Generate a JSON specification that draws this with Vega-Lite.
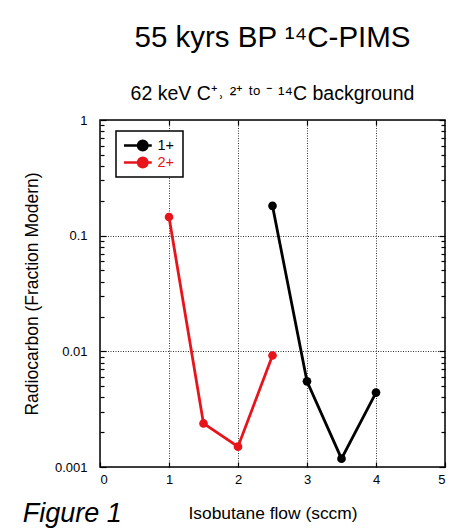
{
  "$schema": "https://vega.github.io/schema/vega-lite/v6.json",
  "padding": {"left": 22, "top": 22, "right": 10, "bottom": 0},
  "background": "white",
  "config": {
    "font": "Liberation Sans",
    "view": {"stroke": "black", "strokeWidth": 1.5},
    "concat": {"spacing": 0}
  },
  "title": {
    "text": "Figure 1",
    "orient": "bottom",
    "anchor": "start",
    "frame": "bounds",
    "font": "Liberation Sans",
    "fontSize": 27,
    "fontStyle": "italic",
    "fontWeight": "normal",
    "color": "black",
    "offset": -21
  },
  "vconcat": [
    {
      "width": 345,
      "height": 347,
      "title": {
        "text": "55 kyrs BP ¹⁴C-PIMS",
        "subtitle": "62 keV C⁺˒ ²⁺ ᵗᵒ ⁻ ¹⁴C background",
        "anchor": "middle",
        "frame": "group",
        "font": "Liberation Sans",
        "fontSize": 29.5,
        "fontWeight": "normal",
        "color": "black",
        "subtitleFont": "Liberation Sans",
        "subtitleFontSize": 19.5,
        "subtitleColor": "black",
        "subtitlePadding": 31,
        "offset": 10
      },
      "data": {
        "values": [
          {"flow": 2.5, "fm": 0.181, "charge": "1+"},
          {"flow": 3.0, "fm": 0.0055, "charge": "1+"},
          {"flow": 3.5, "fm": 0.00118, "charge": "1+"},
          {"flow": 4.0, "fm": 0.0044, "charge": "1+"},
          {"flow": 1.0, "fm": 0.145, "charge": "2+"},
          {"flow": 1.5, "fm": 0.00238, "charge": "2+"},
          {"flow": 2.0, "fm": 0.0015, "charge": "2+"},
          {"flow": 2.5, "fm": 0.0092, "charge": "2+"}
        ]
      },
      "layer": [
        {
          "mark": {"type": "line", "strokeWidth": 2.8},
          "encoding": {
            "x": {
              "field": "flow", "type": "quantitative",
              "scale": {"domain": [0, 5], "nice": false, "zero": false},
              "axis": {
                "title": "Isobutane flow (sccm)",
                "values": [0, 1, 2, 3, 4, 5],
                "format": "d",
                "grid": true, "gridColor": "#333", "gridDash": [1, 1.5], "gridWidth": 1,
                "domain": false,
                "tickSize": -5, "tickColor": "black", "tickWidth": 1.2,
                "labelFontSize": 13, "labelColor": "black", "labelPadding": 11,
                "titleFontSize": 17.4, "titleFontWeight": "normal", "titleColor": "black", "titlePadding": 18
              }
            },
            "y": {
              "field": "fm", "type": "quantitative",
              "scale": {"type": "log", "domain": [0.001, 1], "nice": false},
              "axis": {
                "title": "Radiocarbon (Fraction Modern)",
                "values": [0.001, 0.002, 0.003, 0.004, 0.005, 0.006, 0.007, 0.008, 0.009, 0.01, 0.02, 0.03, 0.04, 0.05, 0.06, 0.07, 0.08, 0.09, 0.1, 0.2, 0.3, 0.4, 0.5, 0.6, 0.7, 0.8, 0.9, 1],
                "labelExpr": "indexof([0.001, 0.01, 0.1, 1], datum.value) >= 0 ? format(datum.value, '~g') : ''",
                "grid": true, "gridColor": "#333", "gridDash": [1, 1.5], "gridWidth": 1,
                "gridOpacity": {"condition": {"test": "indexof([0.001, 0.01, 0.1, 1], datum.value) >= 0", "value": 1}, "value": 0},
                "domain": false,
                "tickSize": {"condition": {"test": "indexof([0.001, 0.01, 0.1, 1], datum.value) >= 0", "value": -6}, "value": -4},
                "tickColor": "black", "tickWidth": 1.2,
                "labelFontSize": 13, "labelColor": "black", "labelPadding": 19,
                "titleFontSize": 17.5, "titleFontWeight": "normal", "titleColor": "black", "titlePadding": 13
              }
            },
            "color": {
              "field": "charge", "type": "nominal",
              "scale": {"domain": ["1+", "2+"], "range": ["black", "#e8141c"]},
              "legend": {
                "title": null,
                "orient": "none", "legendX": 16, "legendY": 11,
                "strokeColor": "black", "fillColor": "white",
                "padding": 8,
                "symbolType": "M-2.9,0L2.9,0M0.16,0A0.94,0.94,0,1,1,2.04,0A0.94,0.94,0,1,1,0.16,0Z",
                "symbolSize": 100, "symbolStrokeWidth": 2.6,
                "symbolOffset": 6,
                "labelFontSize": 14.5, "labelOffset": 13,
                "clipHeight": 13,
                "rowPadding": 2,
                "encode": {
                  "symbols": {"update": {"fill": {"scale": "color", "field": "value"}, "stroke": {"scale": "color", "field": "value"}, "strokeWidth": {"value": 2.6}, "opacity": {"value": 1}}},
                  "labels": {"update": {"fill": {"scale": "color", "field": "value"}}},
                  "legend": {"update": {"strokeWidth": {"value": 1.5}}}
                }
              }
            }
          }
        },
        {
          "mark": {"type": "point", "filled": true, "size": 75, "opacity": 1},
          "encoding": {
            "x": {
              "field": "flow", "type": "quantitative",
              "axis": {"orient": "top", "title": null, "labels": false, "domain": false, "grid": false, "values": [1, 2, 3, 4], "tickSize": -5, "tickColor": "black", "tickWidth": 1.2}
            },
            "y": {
              "field": "fm", "type": "quantitative",
              "axis": {
                "orient": "right", "title": null, "labels": false, "domain": false, "grid": false,
                "values": [0.001, 0.002, 0.003, 0.004, 0.005, 0.006, 0.007, 0.008, 0.009, 0.01, 0.02, 0.03, 0.04, 0.05, 0.06, 0.07, 0.08, 0.09, 0.1, 0.2, 0.3, 0.4, 0.5, 0.6, 0.7, 0.8, 0.9, 1],
                "tickSize": {"condition": {"test": "indexof([0.001, 0.01, 0.1, 1], datum.value) >= 0", "value": -6}, "value": -4},
                "tickColor": "black", "tickWidth": 1.2
              }
            },
            "color": {"field": "charge", "type": "nominal"}
          }
        }
      ],
      "resolve": {"axis": {"x": "independent", "y": "independent"}}
    }
  ]
}
